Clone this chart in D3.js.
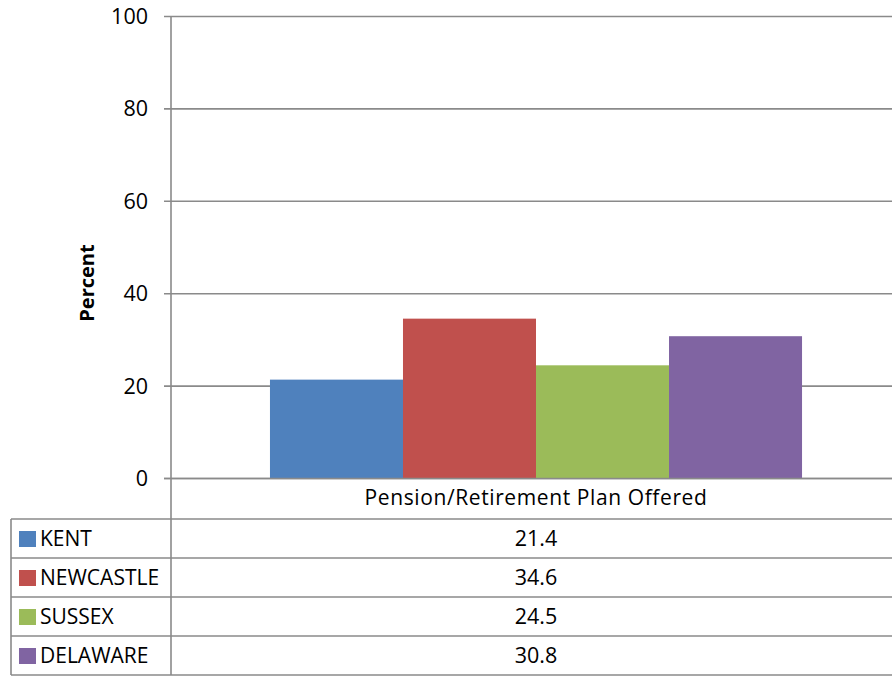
<!DOCTYPE html>
<html><head><meta charset="utf-8">
<script src="https://cdn.jsdelivr.net/npm/d3@7/dist/d3.min.js"></script>
<style>html,body{margin:0;padding:0;background:#fff;}svg{display:block;}</style>
</head><body><svg id="c" width="892" height="676"></svg>
<script>
const categories = ["Pension/Retirement Plan Offered"];
const seriesNames = ["KENT", "NEWCASTLE", "SUSSEX", "DELAWARE"];
const seriesValues = [21.4, 34.6, 24.5, 30.8];
const seriesColors = ["#4F81BD", "#C0504D", "#9BBB59", "#8064A2"];
const yTicks = [0, 20, 40, 60, 80, 100];
const yLabel = "Percent";

(function () {
const svg = d3.select("#c");
const font = "'Open Sans', sans-serif";
const grid = "#8a8a8a";
const pLeft = 171, pRight = 901, pTop = 16.5, pBottom = 478.5;

const y = d3.scaleLinear().domain([0, 100]).range([pBottom, pTop]);
const x0 = d3.scaleBand().domain(categories).range([pLeft, pRight]).paddingInner(0).paddingOuter(0.186);
const x1 = d3.scaleBand().domain(seriesNames).range([0, x0.bandwidth()]).padding(0);

// gridlines
svg.append("g").selectAll("line").data(yTicks).join("line")
  .attr("x1", pLeft - 7).attr("x2", 892)
  .attr("y1", d => y(d)).attr("y2", d => y(d))
  .attr("stroke", grid).attr("stroke-width", 1.6);

// bars
const g = svg.append("g");
categories.forEach(cat => {
  g.selectAll("rect.b").data(seriesNames).join("rect")
    .attr("x", d => x0(cat) + x1(d))
    .attr("width", x1.bandwidth())
    .attr("y", (d, i) => y(seriesValues[i]))
    .attr("height", (d, i) => y(0) - y(seriesValues[i]))
    .attr("fill", (d, i) => seriesColors[i]);
});
// zero line on top
svg.append("line").attr("x1", pLeft - 7).attr("x2", 892).attr("y1", y(0)).attr("y2", y(0))
  .attr("stroke", grid).attr("stroke-width", 1.6);

// y tick labels
svg.append("g").selectAll("text").data(yTicks).join("text")
  .attr("x", 148).attr("y", d => y(d)).attr("dy", "0.35em")
  .attr("text-anchor", "end").attr("font-family", font).attr("font-size", 21.5)
  .attr("fill", "#000").text(d => d);

// y label
svg.append("text").attr("transform", "translate(94,283) rotate(-90)")
  .attr("text-anchor", "middle").attr("font-family", font).attr("font-size", 20)
  .attr("font-weight", "bold").text(yLabel);

// category label
svg.append("g").selectAll("text").data(categories).join("text")
  .attr("x", d => x0(d) + x0.bandwidth() / 2).attr("y", 498).attr("dy", "0.35em")
  .attr("text-anchor", "middle").attr("font-family", font).attr("font-size", 21)
  .attr("letter-spacing", 0.6)
  .text(d => d);

// data table
const rowTop = 519, rowH = 39;
const rows = d3.range(seriesNames.length + 1);
svg.append("g").selectAll("line").data(rows).join("line")
  .attr("x1", 11).attr("x2", 892)
  .attr("y1", d => Math.min(rowTop + d * rowH, 675)).attr("y2", d => Math.min(rowTop + d * rowH, 675))
  .attr("stroke", grid).attr("stroke-width", 1.6);
svg.append("line").attr("x1", 11).attr("x2", 11).attr("y1", rowTop).attr("y2", 675)
  .attr("stroke", grid).attr("stroke-width", 1.6);
// axis line (continues through table)
svg.append("line").attr("x1", pLeft).attr("x2", pLeft).attr("y1", pTop).attr("y2", 675)
  .attr("stroke", grid).attr("stroke-width", 1.6);

const rg = svg.append("g").selectAll("g").data(seriesNames).join("g")
  .attr("transform", (d, i) => `translate(0,${rowTop + i * rowH})`);
rg.append("rect").attr("x", 19).attr("y", 12).attr("width", 17).attr("height", 16)
  .attr("fill", (d, i) => seriesColors[i]);
rg.append("text").attr("x", 40).attr("y", rowH / 2).attr("dy", "0.35em")
  .attr("font-family", font).attr("font-size", 21).text(d => d);
categories.forEach(cat => {
  rg.append("text").attr("x", x0(cat) + x0.bandwidth() / 2).attr("y", rowH / 2).attr("dy", "0.35em")
    .attr("text-anchor", "middle").attr("font-family", font).attr("font-size", 21.5)
    .text((d, i) => seriesValues[i].toFixed(1));
});
})();
</script></body></html>
